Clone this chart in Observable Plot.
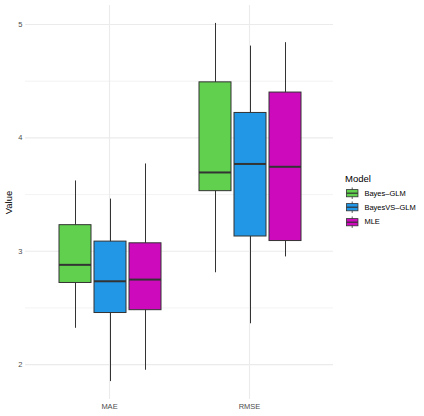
<!DOCTYPE html>
<html><head><meta charset="utf-8">
<script src="https://cdn.jsdelivr.net/npm/d3@7"></script>
<script src="https://cdn.jsdelivr.net/npm/@observablehq/plot@0.6"></script>
<style>
body{margin:0;background:#fff;font-family:"Liberation Sans",Arial,sans-serif;}
#wrap{position:relative;width:424px;height:416px;overflow:hidden;}
#wrap > svg{position:absolute;left:0;top:0;}
#legend{position:absolute;left:345px;top:172px;color:#000;}
#legend .title{font-size:9.5px;line-height:14px;height:14px;}
#legend .item{display:flex;align-items:center;height:14.4px;}
#legend .item span{font-size:7.5px;margin-left:5px;}
</style></head><body><div id="wrap"></div>
<script>
const metrics = ["MAE", "RMSE"];
const models = ["Bayes–GLM", "BayesVS–GLM", "MLE"];
const colors = ["#61D04F", "#2297E6", "#CD0BBC"];
// order: MAE × models, then RMSE × models
const whiskerLow  = [2.32, 1.85, 1.95, 2.81, 2.36, 2.95];
const q1          = [2.72, 2.455, 2.48, 3.53, 3.13, 3.09];
const median      = [2.88, 2.735, 2.75, 3.695, 3.77, 3.745];
const q3          = [3.23, 3.085, 3.07, 4.49, 4.22, 4.40];
const whiskerHigh = [3.62, 3.46, 3.77, 5.01, 4.81, 4.84];
const yTicks = [2, 3, 4, 5];
const yMinor = [2.5, 3.5, 4.5];

const stats = [];
metrics.forEach((m, i) => models.forEach((mo, j) => {
  const k = i * models.length + j;
  stats.push({metric: m, model: mo, lo: whiskerLow[k], q1: q1[k], med: median[k], q3: q3[k], hi: whiskerHigh[k]});
}));
const ext = [d3.min(whiskerLow), d3.max(whiskerHigh)];
const pad = (ext[1] - ext[0]) * 0.05;
const yDomain = [ext[0] - pad, ext[1] + pad];

const W = 424, H = 416;
const dims = {width: W, height: H, marginLeft: 25, marginRight: 91, marginTop: 5, marginBottom: 17};
const grid = "#ebebeb";

const bg = Plot.plot({
  ...dims,
  style: {fontFamily: "Liberation Sans, Arial, sans-serif", fontSize: "7.5px", color: "#4d4d4d", background: "transparent"},
  x: {type: "point", domain: metrics, padding: 0.6, label: null, tickSize: 0, tickPadding: 4},
  y: {domain: yDomain, ticks: yTicks, tickFormat: d3.format("d"), tickSize: 0, tickPadding: 3, label: "Value", labelArrow: "none", labelAnchor: "center", labelOffset: 20},
  marks: [
    Plot.ruleY(yMinor, {stroke: grid, strokeWidth: 0.6}),
    Plot.ruleY(yTicks, {stroke: grid, strokeWidth: 1.1}),
    Plot.ruleX(metrics, {stroke: grid, strokeWidth: 1.1})
  ]
});

const fg = Plot.plot({
  ...dims,
  style: {background: "transparent"},
  facet: {data: stats, x: "metric"},
  fx: {domain: metrics, paddingInner: 0.25, paddingOuter: 0.225, axis: null, label: null},
  x: {domain: models, paddingInner: 0.1, paddingOuter: 0.05, axis: null},
  y: {domain: yDomain, axis: null},
  color: {domain: models, range: colors},
  marks: [
    Plot.ruleX(stats, {x: "model", y1: "lo", y2: "hi", stroke: "#333333", strokeWidth: 1}),
    Plot.barY(stats, {x: "model", y1: "q1", y2: "q3", fill: "model", stroke: "#333333", strokeWidth: 1}),
    Plot.tickY(stats, {x: "model", y: "med", stroke: "#333333", strokeWidth: 2})
  ]
});

const wrap = document.getElementById("wrap");
wrap.appendChild(bg);
wrap.appendChild(fg);
// style y-axis label
d3.select(bg).selectAll("text").filter(function(){return this.textContent.startsWith("Value");})
  .text("Value").style("font-size", "9.5px").style("fill", "#000");

const legend = d3.select(wrap).append("div").attr("id", "legend");
legend.append("div").attr("class", "title").text("Model");
models.forEach((mo, i) => {
  const it = legend.append("div").attr("class", "item");
  const s = it.append("svg").attr("width", 14.4).attr("height", 14.4);
  const k = 14.4;
  s.append("line").attr("x1", k/2).attr("x2", k/2).attr("y1", k*0.1).attr("y2", k*0.9).attr("stroke", "#333").attr("stroke-width", 0.8);
  s.append("rect").attr("x", k*0.1).attr("y", k*0.25).attr("width", k*0.8).attr("height", k*0.5).attr("fill", colors[i]).attr("stroke", "#333").attr("stroke-width", 0.8);
  s.append("line").attr("x1", k*0.1).attr("x2", k*0.9).attr("y1", k/2).attr("y2", k/2).attr("stroke", "#333").attr("stroke-width", 1.2);
  it.append("span").text(mo);
});
</script></body></html>
